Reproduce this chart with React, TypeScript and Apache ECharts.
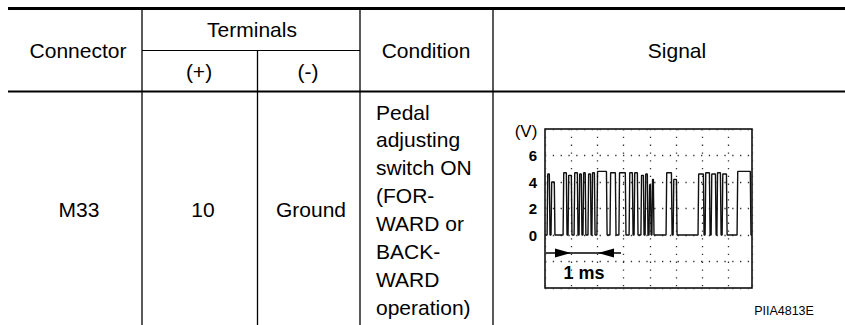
import React, { useEffect, useRef } from "react";
import * as echarts from "echarts";

// Table content
const headerTop = ["Connector", "Terminals", "Condition", "Signal"];
const terminalHeads = ["(+)", "(-)"];
const rowValues = ["M33", "10", "Ground"];
const conditionLines = [
  "Pedal",
  "adjusting",
  "switch ON",
  "(FOR-",
  "WARD or",
  "BACK-",
  "WARD",
  "operation)",
];
const figureId = "PIIA4813E";

// Oscilloscope axis
const voltTicks = [0, 2, 4, 6];
const timeLabel = "1 ms";
const voltUnit = "(V)";

// Pulses: [start ms, end ms, peak V]
const pulses: [number, number, number][] = [
  [0.08, 0.19, 4.6],
  [0.23, 0.38, 4.0],
  [0.69, 0.84, 4.7],
  [0.88, 1.03, 4.5],
  [1.11, 1.26, 4.7],
  [1.3, 1.41, 4.6],
  [1.45, 1.56, 4.7],
  [1.64, 1.76, 4.6],
  [1.79, 1.91, 4.7],
  [1.98, 2.37, 4.8],
  [2.48, 2.71, 4.7],
  [2.82, 3.09, 4.7],
  [3.21, 3.36, 4.7],
  [3.4, 3.55, 4.7],
  [3.66, 3.78, 4.5],
  [3.82, 3.93, 4.6],
  [3.97, 4.05, 3.8],
  [4.08, 4.16, 4.2],
  [4.62, 4.85, 4.7],
  [4.89, 5.04, 4.2],
  [5.84, 6.07, 4.6],
  [6.11, 6.3, 4.7],
  [6.34, 6.53, 4.6],
  [6.56, 6.72, 4.7],
  [6.76, 6.95, 4.6],
  [7.33, 7.86, 4.8],
];
const traceStart = 0;
const traceEnd = 7.9;

const FONT = "'Liberation Sans', Arial, Helvetica, sans-serif";

function buildTrace(): [number, number][] {
  const pts: [number, number][] = [[traceStart, 0]];
  const edge = 0.025;
  for (const [s, e, v] of pulses) {
    pts.push([s, 0]);
    pts.push([s + edge, v]);
    pts.push([e - edge, v]);
    pts.push([e, 0]);
  }
  pts.push([traceEnd, 0]);
  return pts;
}

function txt(x: number, y: number, text: string, opts: any = {}) {
  return {
    type: "text",
    x,
    y,
    silent: true,
    style: {
      text,
      fill: "#000",
      fontFamily: FONT,
      fontSize: opts.size ?? 21,
      fontWeight: opts.weight ?? "normal",
      align: opts.align ?? "center",
      verticalAlign: "middle",
    },
  };
}

function ln(x1: number, y1: number, x2: number, y2: number, w: number) {
  return {
    type: "line",
    silent: true,
    shape: { x1, y1, x2, y2 },
    style: { stroke: "#000", lineWidth: w },
  };
}

export default function App() {
  const ref = useRef<HTMLDivElement>(null);
  useEffect(() => {
    if (!ref.current) return;
    const chart = echarts.init(ref.current, undefined, { renderer: "svg" });
    const graphics: any[] = [
      // table rules
      ln(8, 8.5, 845, 8.5, 3),
      ln(8, 91.5, 845, 91.5, 2),
      ln(142, 50.5, 360, 50.5, 1.2),
      ln(142, 8, 142, 325, 1.3),
      ln(257.5, 50.5, 257.5, 325, 1.3),
      ln(360, 8, 360, 325, 1.3),
      ln(493, 8, 493, 325, 1.3),
      // header text
      txt(78, 50, headerTop[0]),
      txt(252, 29, headerTop[1]),
      txt(426, 50, headerTop[2]),
      txt(677, 50, headerTop[3]),
      txt(199, 71, terminalHeads[0]),
      txt(308, 71, terminalHeads[1]),
      // body text
      txt(79, 209, rowValues[0]),
      txt(203, 209, rowValues[1]),
      txt(311, 209, rowValues[2]),
      ...conditionLines.map((t, i) => txt(376, 112 + i * 27.9, t, { align: "left" })),
      txt(784, 311, figureId, { size: 12.5 }),
      // scope annotations
      txt(526, 131, voltUnit, { size: 17 }),
      txt(584, 273, timeLabel, { size: 18, weight: "bold" }),
      ln(546, 253, 621, 253, 1.6),
      {
        type: "polygon",
        silent: true,
        shape: { points: [[555, 248.5], [571, 253], [555, 257.5]] },
        style: { fill: "#000" },
      },
      {
        type: "polygon",
        silent: true,
        shape: { points: [[614, 248.5], [598, 253], [614, 257.5]] },
        style: { fill: "#000" },
      },
    ];
    chart.setOption({
      animation: false,
      backgroundColor: "#fff",
      grid: {
        left: 545,
        top: 129,
        width: 207,
        height: 159,
        show: true,
        borderColor: "#000",
        borderWidth: 1.5,
        backgroundColor: "transparent",
      },
      xAxis: {
        type: "value",
        min: 0,
        max: 7.9,
        interval: 1,
        axisLine: { show: false },
        axisTick: { show: false },
        axisLabel: { show: false },
        splitLine: {
          show: true,
          lineStyle: { color: "#333", width: 1.3, type: [1.3, 6.5] },
        },
      },
      yAxis: {
        type: "value",
        min: -4,
        max: 8,
        interval: 2,
        axisLine: { show: false },
        axisTick: { show: false },
        axisLabel: {
          show: true,
          margin: 8,
          fontFamily: FONT,
          fontSize: 15,
          fontWeight: "bold",
          color: "#000",
          formatter: (v: number) => (voltTicks.includes(v) ? String(v) : ""),
        },
        splitLine: {
          show: true,
          lineStyle: { color: "#333", width: 1.3, type: [1.3, 6.5] },
        },
      },
      series: [
        {
          type: "line",
          data: buildTrace(),
          symbol: "none",
          lineStyle: { color: "#111", width: 1.4 },
          silent: true,
        },
      ],
      graphic: graphics,
    });
    return () => chart.dispose();
  }, []);
  return (
    <div
      ref={ref}
      style={{ position: "absolute", left: 0, top: 0, width: 845, height: 325, background: "#fff" }}
    />
  );
}
